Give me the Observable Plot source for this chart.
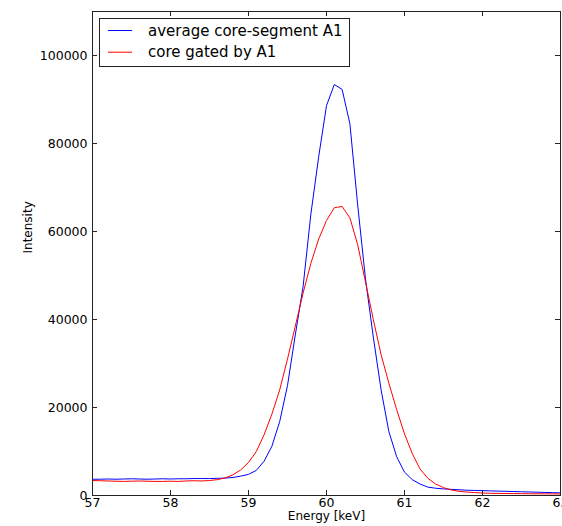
<!DOCTYPE html>
<html>
<head>
<meta charset="utf-8">
<script src="https://cdn.jsdelivr.net/npm/d3@7"></script>
<script src="https://cdn.jsdelivr.net/npm/@observablehq/plot@0.6"></script>
<style>
  html, body { margin: 0; padding: 0; background: #fff; }
  #wrap { position: relative; width: 562px; height: 526px; overflow: hidden; }
  #legend { position: absolute; left: 0; top: 0; pointer-events: none; }
</style>
</head>
<body>
<div id="wrap"></div>
<script>
// ---- data ----
const energy = [
  57.0,57.1,57.2,57.3,57.4,57.5,57.6,57.7,57.8,57.9,
  58.0,58.1,58.2,58.3,58.4,58.5,58.6,58.7,58.8,58.9,
  59.0,59.1,59.2,59.3,59.4,59.5,59.6,59.7,59.8,59.9,
  60.0,60.1,60.2,60.3,60.4,60.5,60.6,60.7,60.8,60.9,
  61.0,61.1,61.2,61.3,61.4,61.5,61.6,61.7,61.8,61.9,
  62.0,62.1,62.2,62.3,62.4,62.5,62.6,62.7,62.8,62.9,63.0
];
const averageCoreSegment = [
  3700,3700,3750,3700,3750,3800,3750,3700,3750,3800,
  3750,3800,3800,3850,3850,3850,3900,3950,4100,4400,
  4800,5700,7800,11200,16800,25000,36500,47500,64000,77000,
  88600,93400,92300,84500,66000,49200,36000,24000,14500,8800,
  5300,3600,2600,1900,1650,1500,1400,1300,1200,1150,
  1100,1050,1000,950,900,850,800,750,700,650,600
];
const coreGated = [
  3400,3350,3300,3250,3200,3250,3300,3250,3200,3200,
  3250,3200,3300,3350,3300,3400,3600,4000,4700,5800,
  7500,10000,13800,18500,24000,31000,38500,46000,52800,58300,
  62500,65400,65700,63100,57000,48500,40000,32000,25500,19500,
  14000,9500,6000,3900,2600,1800,1250,950,780,660,
  560,500,480,460,440,420,400,390,380,360,350
];
const seriesNames = ["average core-segment A1", "core gated by A1"];
const seriesColors = ["#0000ff", "#ff0000"];
const xTicks = [57, 58, 59, 60, 61, 62, 63];
const yTicks = [0, 20000, 40000, 60000, 80000, 100000];
const xLabel = "Energy [keV]";
const yLabel = "Intensity";

const rows = [];
energy.forEach((e, i) => {
  rows.push({energy: e, value: averageCoreSegment[i], series: seriesNames[0]});
  rows.push({energy: e, value: coreGated[i], series: seriesNames[1]});
});

const W = 562, H = 526, mL = 92, mR = 2, mT = 11, mB = 31;
const innerW = W - mL - mR, innerH = H - mT - mB;
const tickLen = 5;

const chart = Plot.plot({
  width: W, height: H,
  marginLeft: mL, marginRight: mR, marginTop: mT, marginBottom: mB,
  style: {fontFamily: "'DejaVu Sans', sans-serif", fontSize: "12.5px", color: "#000", background: "#fff", overflow: "hidden"},
  x: {domain: [57, 63]},
  y: {domain: [0, 110000]},
  color: {domain: seriesNames, range: seriesColors},
  marks: [
    Plot.line(rows, {x: "energy", y: "value", z: "series", stroke: "series", strokeWidth: 1}),
    Plot.frame({stroke: "#222", strokeWidth: 1}),
    // inward ticks on all four sides
    Plot.tickX(xTicks, {x: d => d, insetTop: innerH - tickLen, stroke: "#222"}),
    Plot.tickX(xTicks, {x: d => d, insetBottom: innerH - tickLen, stroke: "#222"}),
    Plot.tickY(yTicks, {y: d => d, insetRight: innerW - tickLen, stroke: "#222"}),
    Plot.tickY(yTicks, {y: d => d, insetLeft: innerW - tickLen, stroke: "#222"}),
    Plot.axisX(xTicks, {tickSize: 0, tickPadding: 3, tickFormat: d => String(d), label: null, fontSize: 12.5}),
    Plot.axisY(yTicks, {tickSize: 0, tickPadding: 5, tickFormat: d => String(d), label: null, fontSize: 12.5}),
    Plot.text([yLabel], {text: d => d, frameAnchor: "left", dx: -64, rotate: -90, fontSize: 12}),
    Plot.text([xLabel], {text: d => d, frameAnchor: "bottom", dy: 24, fontSize: 12})
  ]
});

const wrap = document.getElementById("wrap");
wrap.appendChild(chart);

// legend (overlay)
const ns = "http://www.w3.org/2000/svg";
const leg = document.createElementNS(ns, "svg");
leg.setAttribute("id", "legend");
leg.setAttribute("width", W);
leg.setAttribute("height", H);
const box = document.createElementNS(ns, "rect");
box.setAttribute("x", 99.5); box.setAttribute("y", 18.5);
box.setAttribute("width", 250); box.setAttribute("height", 48);
box.setAttribute("fill", "#fff"); box.setAttribute("stroke", "#222"); box.setAttribute("stroke-width", 1);
leg.appendChild(box);
seriesNames.forEach((name, i) => {
  const cy = 30.5 + i * 21.7;
  const ln = document.createElementNS(ns, "line");
  ln.setAttribute("x1", 108); ln.setAttribute("x2", 132);
  ln.setAttribute("y1", cy); ln.setAttribute("y2", cy);
  ln.setAttribute("stroke", seriesColors[i]); ln.setAttribute("stroke-width", 1);
  leg.appendChild(ln);
  const tx = document.createElementNS(ns, "text");
  tx.setAttribute("x", 148); tx.setAttribute("y", cy);
  tx.setAttribute("dy", "0.35em");
  tx.setAttribute("font-family", "'DejaVu Sans', sans-serif");
  tx.setAttribute("font-size", "15px");
  tx.setAttribute("fill", "#000");
  tx.textContent = name;
  leg.appendChild(tx);
});
wrap.appendChild(leg);
</script>
</body>
</html>
